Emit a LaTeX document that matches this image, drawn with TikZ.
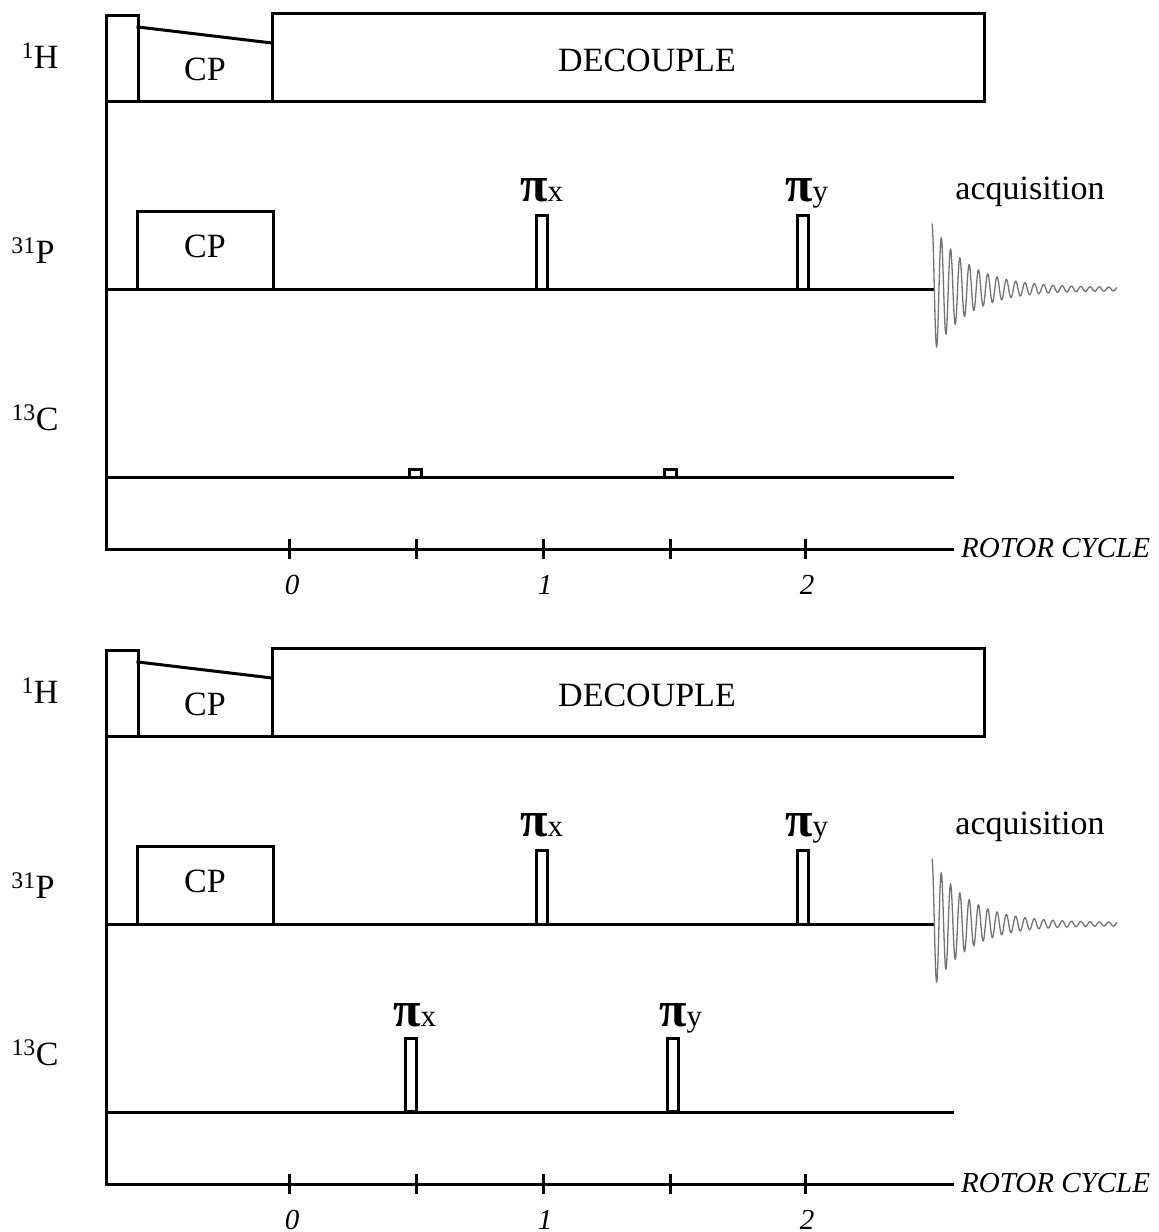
\documentclass[tikz,border=0pt]{standalone}
\usepackage{fontspec}
\setmainfont{Liberation Serif}
\newcommand\bigtxt{\fontsize{34}{40}\selectfont}
\newcommand\axtxt{\fontsize{29}{34}\selectfont\itshape}
\newcommand\pilabel[1]{{\fontsize{50}{54}\selectfont\bfseries π}{\fontsize{31}{36}\selectfont #1}}
\tikzset{
  seq/.style={line width=3pt, line join=miter, line cap=rect},
  lbl/.style={inner sep=0pt, anchor=base},
  fid/.style={line width=1.3pt, draw=black!55}
}
\begin{document}
\begin{tikzpicture}[x=1pt,y=-1pt]
\useasboundingbox (0,0) rectangle (1159,1232);
\foreach \p/\dy in {a/0,b/635}{
\begin{scope}[shift={(0,\dy)}]
  % H channel
  \draw[seq] (106,101) rectangle (138,15);
  \draw[seq] (138,27) -- (272,43);
  \draw[seq] (272,101) rectangle (984,13);
  \draw[seq] (106,101) -- (984,101);
  \draw[seq] (106,15) -- (106,549);
  % P channel
  \draw[seq] (137,289) rectangle (273,211);
  \draw[seq] (106,289) -- (932,289);
  \draw[seq] (536,289) rectangle (547,215);
  \draw[seq] (797,289) rectangle (808,215);
  \draw[fid] plot[domain=0:185, samples=900] ({932+\x}, {289 - (64*exp(-\x/36)+1.5)*cos(\x*38.71)});
  % C channel
  \draw[seq] (106,477) -- (952,477);
  % rotor axis
  \draw[seq] (106,549) -- (952,549);
  \foreach \t in {289,416,543,670,805}{
    \draw[seq,line cap=butt] (\t,539) -- (\t,559);
  }
  % labels
  \node[lbl] (H\p) at (40,68) {\bigtxt\textsuperscript{1}H};
  \node[lbl] (P\p) at (33,263) {\bigtxt\textsuperscript{31}P};
  \node[lbl] (C\p) at (35,430) {\bigtxt\textsuperscript{13}C};
  \node[lbl] (dec\p) at (647,71) {\bigtxt DECOUPLE};
  \node[lbl] (cpH\p) at (205,80) {\bigtxt CP};
  \node[lbl] (cpP\p) at (205,257) {\bigtxt CP};
  \node[lbl] (acq\p) at (1030,199) {\bigtxt acquisition};
  \node[lbl,anchor=base west] (pix\p) at (520,201) {\pilabel{x}};
  \node[lbl,anchor=base west] (piy\p) at (785,201) {\pilabel{y}};
  \node[lbl,anchor=base west] (rot\p) at (961,557) {\axtxt ROTOR CYCLE};
  \node[lbl] (n0\p) at (292,594) {\axtxt 0};
  \node[lbl] (n1\p) at (545,594) {\axtxt 1};
  \node[lbl] (n2\p) at (807,594) {\axtxt 2};
\end{scope}
}
% top panel: small 13C pulses
\draw[seq] (409,477) rectangle (421,469);
\draw[seq] (664,477) rectangle (676,469);
% bottom panel: 13C pi pulses
\draw[seq] (405,1111) rectangle (416,1038);
\draw[seq] (667,1111) rectangle (678,1038);
\node[lbl,anchor=base west] (cpix) at (393,1026) {\pilabel{x}};
\node[lbl,anchor=base west] (cpiy) at (659,1026) {\pilabel{y}};
\end{tikzpicture}
\end{document}
